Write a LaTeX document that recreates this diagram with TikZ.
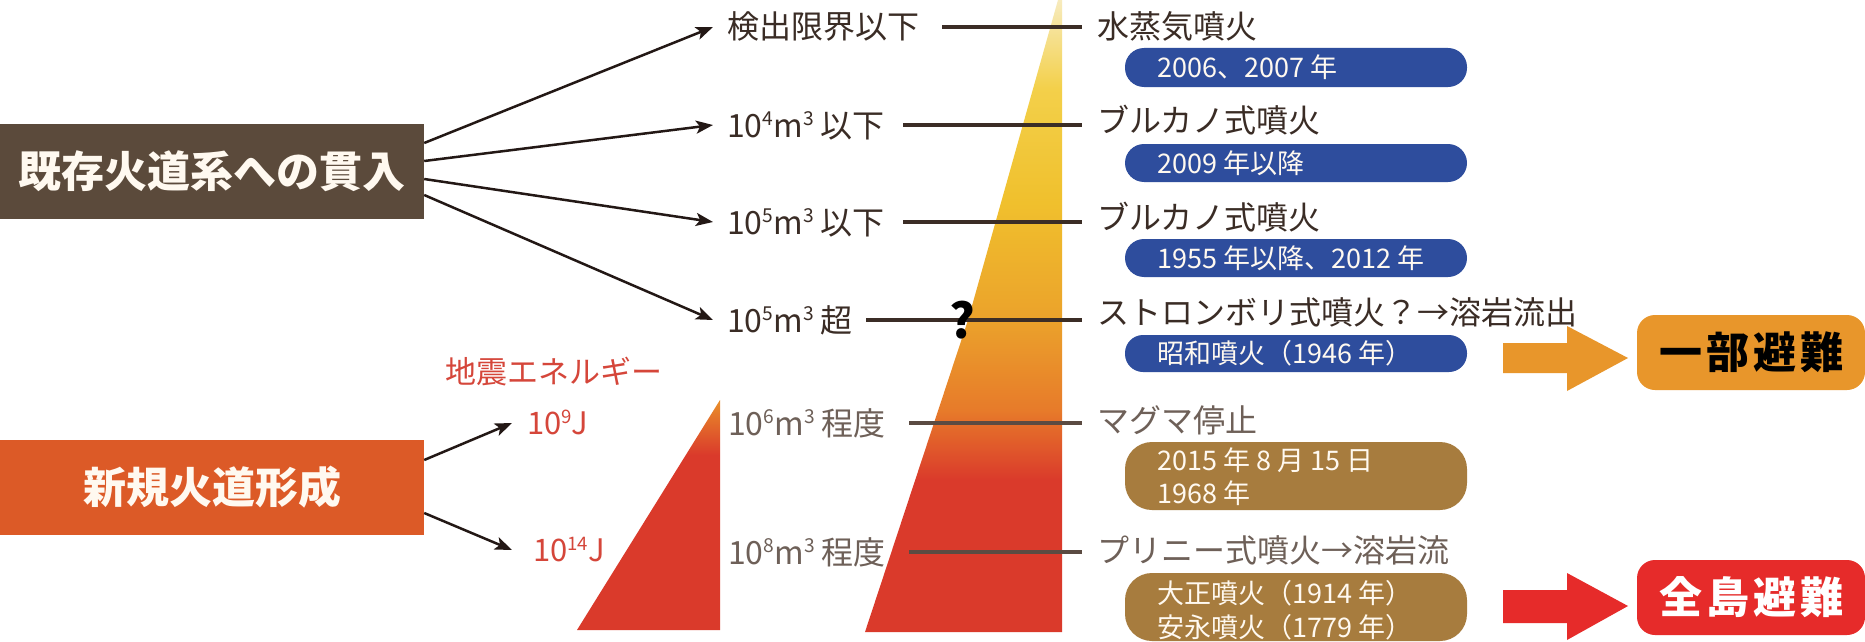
\documentclass[tikz,border=0pt]{standalone}
\usepackage{fontspec}
\setmainfont{Noto Sans CJK JP}
\usetikzlibrary{arrows.meta,calc}
\definecolor{cdark}{HTML}{3A2C25}
\definecolor{cgray}{HTML}{6E6058}
\definecolor{cline}{HTML}{3B2D26}
\definecolor{clineg}{HTML}{5B4B42}
\definecolor{carrow}{HTML}{231815}
\definecolor{cbrown}{HTML}{5B4A3B}
\definecolor{corange}{HTML}{DC5A27}
\definecolor{cred}{HTML}{D5463A}
\definecolor{cblue}{HTML}{2E4D9D}
\definecolor{cpbrown}{HTML}{A77C3E}
\definecolor{cwhite}{HTML}{FFF9F0}
\definecolor{cevor}{HTML}{E8962B}
\definecolor{cevred}{HTML}{E62B2A}
\definecolor{vred}{HTML}{DA3A2B}
\definecolor{vorg}{HTML}{E77B2A}
\definecolor{vamber}{HTML}{EBA22B}
\definecolor{vyel}{HTML}{F0C02D}
\definecolor{vyel2}{HTML}{F3D04A}
\definecolor{vpale}{HTML}{F7EBBE}
\definecolor{vorg2}{HTML}{E98F2A}
\pgfdeclareverticalshading{volc}{100bp}{color(0bp)=(vred); color(37bp)=(vred); color(42.6bp)=(vorg); color(49.7bp)=(vamber); color(59bp)=(vyel); color(68bp)=(vyel2); color(75bp)=(vpale); color(100bp)=(vpale)}
\pgfdeclareverticalshading{smallvolc}{100bp}{color(0bp)=(vred); color(63bp)=(vred); color(75bp)=(vorg2); color(100bp)=(vorg2)}
\newcommand\fsz[1]{\fontsize{#1pt}{#1pt}\selectfont}
\newcommand\sups[1]{\raisebox{0.36em}{\scalebox{0.6}{#1}}}
\begin{document}
\begin{tikzpicture}[x=1pt,y=-1pt,
  lab/.style={anchor=west,inner sep=0pt,font=\fsz{32},text height=28pt,text depth=4pt,text=cdark},
  labg/.style={lab,text=cgray},
  pilltxt/.style={anchor=west,inner sep=0pt,font=\fsz{27},text height=23.8pt,text depth=3.2pt,text=cwhite},
  conn/.style={draw=carrow,line width=2.5pt,-{Stealth[length=17pt,width=13pt,inset=4pt]}},
  hline/.style={draw=cline,line width=4pt},
  hlineg/.style={draw=clineg,line width=4pt},
  bigbox/.style={minimum width=424pt,minimum height=95pt,inner sep=0pt,font=\fsz{43}\bfseries,text=cwhite},
  evac/.style={rounded corners=18pt,minimum width=228pt,minimum height=75pt,inner sep=0pt,font=\fsz{43}\bfseries},
  energy/.style={anchor=west,inner sep=0pt,font=\fsz{31},text height=27.3pt,text depth=3.7pt,text=cred},
  qmark/.style={font=\fsz{48}\bfseries,inner sep=0pt,anchor=base}
]
\useasboundingbox (0,0) rectangle (1865,642);
\fill[white] (0,0) rectangle (1865,642);

% gradient shapes
\shade[shading=volc] (1058,0) -- (1062,0) -- (1062,632) -- (865,632) -- (968,320) -- cycle;
\shade[shading=smallvolc] (720,400) -- (720,630) -- (577,630) -- cycle;

% left boxes
\node[bigbox,fill=cbrown] (b1) at (212,171.5) {既存火道系への貫入};
\node[bigbox,fill=corange] (b2) at (212,487.5) {新規火道形成};

% volume labels
\node[lab] (l1) at (727,27) {検出限界以下};
\node[lab] (l2) at (727,125) {10\sups{4}m\sups{3} 以下};
\node[lab] (l3) at (727,222) {10\sups{5}m\sups{3} 以下};
\node[lab] (l4) at (727,320) {10\sups{5}m\sups{3} 超};
\node[labg] (l5) at (728,423) {10\sups{6}m\sups{3} 程度};
\node[labg] (l6) at (728,552) {10\sups{8}m\sups{3} 程度};

% eruption labels
\node[lab] (r1) at (1097,27) {水蒸気噴火};
\node[lab] (r2) at (1097,120) {ブルカノ式噴火};
\node[lab] (r3) at (1097,217) {ブルカノ式噴火};
\node[lab] (r4) at (1097,312) {ストロンボリ式噴火？→溶岩流出};
\node[labg] (r5) at (1097,420) {マグマ停止};
\node[labg] (r6) at (1097,550) {プリニー式噴火→溶岩流};

% connecting lines
\draw[hline] ([xshift=23pt]l1.east) -- ([xshift=-15pt]r1.west |- l1.east);
\draw[hline] ([xshift=18pt]l2.east) -- ([xshift=-15pt]r2.west |- l2.east);
\draw[hline] ([xshift=18pt]l3.east) -- ([xshift=-15pt]r3.west |- l3.east);
\draw[hline] ([xshift=13pt]l4.east) -- ([xshift=-15pt]r4.west |- l4.east);
\draw[hlineg] ([xshift=23pt]l5.east) -- ([xshift=-15pt]r5.west |- l5.east);
\draw[hlineg] ([xshift=23pt]l6.east) -- ([xshift=-15pt]r6.west |- l6.east);
\node[qmark,text=black] (q) at (962,338) {?};

% arrows from boxes
\draw[conn] ([yshift=28.5pt]b1.east) -- ([xshift=-14pt]l1.west);
\draw[conn] ([yshift=10.5pt]b1.east) -- ([xshift=-14pt]l2.west);
\draw[conn] ([yshift=-7.5pt]b1.east) -- ([xshift=-14pt]l3.west);
\draw[conn] ([yshift=-23.5pt]b1.east) -- ([xshift=-14pt]l4.west);

\node[text=cred,font=\fsz{31},anchor=west,inner sep=0pt] (eh) at (445,372) {地震エネルギー};
\node[energy] (e1) at (527,423) {10\sups{9}J};
\node[energy] (e2) at (533,550) {10\sups{14}J};
\draw[conn] ([yshift=27.5pt]b2.east) -- ([xshift=-15pt]e1.west);
\draw[conn] ([yshift=-25.5pt]b2.east) -- ([xshift=-21pt]e2.west);

% pills
\fill[cblue,rounded corners=19pt] (1125,48) rectangle (1467,87);
\fill[cblue,rounded corners=19pt] (1125,144) rectangle (1467,182);
\fill[cblue,rounded corners=19pt] (1125,239) rectangle (1467,277);
\fill[cblue,rounded corners=18pt] (1125,335) rectangle (1467,372);
\fill[cpbrown,rounded corners=27pt] (1125,442) rectangle (1467,510);
\fill[cpbrown,rounded corners=27pt] (1125,573) rectangle (1467,641);
\node[pilltxt] (p1) at (1157,67) {2006、2007 年};
\node[pilltxt] (p2) at (1157,163) {2009 年以降};
\node[pilltxt] (p3) at (1157,258) {1955 年以降、2012 年};
\node[pilltxt] (p4) at (1157,353) {昭和噴火（1946 年）};
\node[pilltxt] (p5a) at (1157,460) {2015 年 8 月 15 日};
\node[pilltxt] (p5b) at (1157,493) {1968 年};
\node[pilltxt] (p6a) at (1157,593) {大正噴火（1914 年）};
\node[pilltxt] (p6b) at (1157,627) {安永噴火（1779 年）};

% evacuation
\node[evac,fill=cevor,text=black] (ev1) at (1751,352.5) {一\hspace{4pt}部\hspace{4pt}避\hspace{4pt}難};
\node[evac,fill=cevred,text=white] (ev2) at (1751,597.5) {全\hspace{4pt}島\hspace{4pt}避\hspace{4pt}難};
\fill[cevor] (1503,343) -- (1567,343) -- (1567,326) -- (1628,358) -- (1567,391) -- (1567,373) -- (1503,373) -- cycle;
\fill[cevred] (1503,590) -- (1567,590) -- (1567,573) -- (1628,606) -- (1567,640) -- (1567,623) -- (1503,623) -- cycle;
\end{tikzpicture}
\end{document}
